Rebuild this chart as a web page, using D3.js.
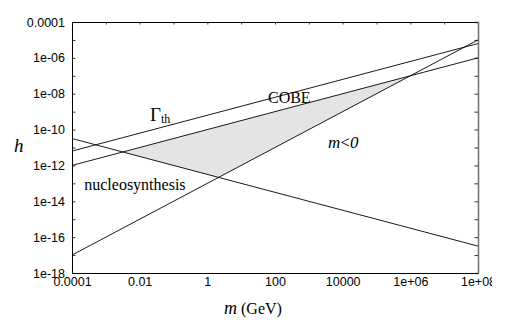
<!DOCTYPE html>
<html><head><meta charset="utf-8">
<script src="https://cdn.jsdelivr.net/npm/d3@7"></script>
<style>html,body{margin:0;padding:0;background:#fff;}svg{display:block;}</style>
</head><body>
<script>
// ---- data ----
const xTickValues = [1e-4,1e-3,1e-2,1e-1,1,10,100,1e3,1e4,1e5,1e6,1e7,1e8];
const xTickLabels = ["0.0001","","0.01","","1","","100","","10000","","1e+06","","1e+08"];
const yTickValues = [1e-4,1e-5,1e-6,1e-7,1e-8,1e-9,1e-10,1e-11,1e-12,1e-13,1e-14,1e-15,1e-16,1e-17,1e-18];
const yTickLabels = ["0.0001","","1e-06","","1e-08","","1e-10","","1e-12","","1e-14","","1e-16","","1e-18"];
// each line: two end points [m, h]
const lineGammaTh = [[1e-4, 6.3e-12],[1e8, 6.3e-6]];
const lineCOBE = [[1e-4, 1e-12],[1e8, 1e-6]];
const lineNucleo = [[1e-4, 3.16e-11],[1e8, 3.16e-17]];
const lineMneg = [[1e-4, 1e-17],[1e8, 1e-5]];
const shaded = [[0.00316, 5.6e-12],[2.15, 2.15e-13],[1e6, 1e-7]];
const labels = [
  {text:"COBE", m:62, h:3e-9},
  {text:"nucleosynthesis", m:2.3e-4, h:4.3e-14},
];

const W=507,H=327;
const x0=72,x1=478,y0=22,y1=273;
const svg=d3.select("body").append("svg").attr("width",W).attr("height",H);
const x=d3.scaleLog().domain([1e-4,1e8]).range([x0,x1]);
const y=d3.scaleLog().domain([1e-18,1e-4]).range([y1,y0]);

svg.append("defs").append("clipPath").attr("id","lblclip")
  .append("rect").attr("x",0).attr("y",0).attr("width",492).attr("height",H);

// shaded area
svg.append("path").datum(shaded)
  .attr("d",d3.line().x(d=>x(d[0])).y(d=>y(d[1])).curve(d3.curveLinearClosed))
  .attr("fill","#e4e4e4").attr("stroke","none");

const line=d3.line().x(d=>x(d[0])).y(d=>y(d[1]));
[lineGammaTh,lineCOBE,lineNucleo,lineMneg].forEach(L=>{
  svg.append("path").datum(L).attr("d",line).attr("fill","none")
    .attr("stroke","#000").attr("stroke-width",0.9);
});

const fontSans="'Liberation Sans', Arial, sans-serif";
const fontSerif="'Liberation Serif', 'Times New Roman', serif";

// axes
const gB=svg.append("g").attr("transform",`translate(0,${y1})`).attr("clip-path","url(#lblclip)")
  .call(d3.axisBottom(x).tickValues(xTickValues).tickSize(-3).tickPadding(4)
    .tickFormat((d,i)=>xTickLabels[i]));
const gT=svg.append("g").attr("transform",`translate(0,${y0})`)
  .call(d3.axisTop(x).tickValues(xTickValues).tickSize(-2.5).tickFormat(""));
const gL=svg.append("g").attr("transform",`translate(${x0},0)`)
  .call(d3.axisLeft(y).tickValues(yTickValues).tickSize(-3.5).tickPadding(7)
    .tickFormat((d,i)=>yTickLabels[i]));
const gR=svg.append("g").attr("transform",`translate(${x1},0)`)
  .call(d3.axisRight(y).tickValues(yTickValues).tickSize(-3.5).tickFormat(""));
[gB,gT,gL,gR].forEach(g=>{
  g.selectAll("path.domain").attr("stroke","#000").attr("stroke-width",1);
  g.selectAll("line").attr("stroke","#000").attr("stroke-width",0.8);
  g.selectAll("text").attr("font-family",fontSans).attr("font-size",12.5).attr("fill","#000");
});
gR.select("path.domain").attr("stroke","#777").attr("stroke-width",1.6);

// annotations
labels.forEach(l=>{
  svg.append("text").attr("x",x(l.m)).attr("y",y(l.h)).text(l.text)
    .attr("font-family",fontSerif).attr("font-size",16).attr("fill","#000");
});
const g1=svg.append("text").attr("x",150).attr("y",121)
  .attr("font-family",fontSerif).attr("font-size",19).attr("fill","#000");
g1.append("tspan").text("Γ");
g1.append("tspan").text("th").attr("font-size",12).attr("dy",2);

const mneg=svg.append("text").attr("x",328).attr("y",148)
  .attr("font-family",fontSerif).attr("font-size",17).attr("fill","#000");
mneg.append("tspan").text("m").attr("font-style","italic");
mneg.append("tspan").text("<");
mneg.append("tspan").text("0").attr("font-style","italic");

svg.append("text").attr("x",14).attr("y",152).text("h")
  .attr("font-family",fontSerif).attr("font-style","italic").attr("font-size",19).attr("fill","#000");

const xt=svg.append("text").attr("x",224).attr("y",314)
  .attr("font-family",fontSerif).attr("font-size",17).attr("fill","#000");
xt.append("tspan").text("m").attr("font-style","italic").attr("font-size",18);
xt.append("tspan").text(" (GeV)").attr("font-size",16);
</script>
</body></html>
